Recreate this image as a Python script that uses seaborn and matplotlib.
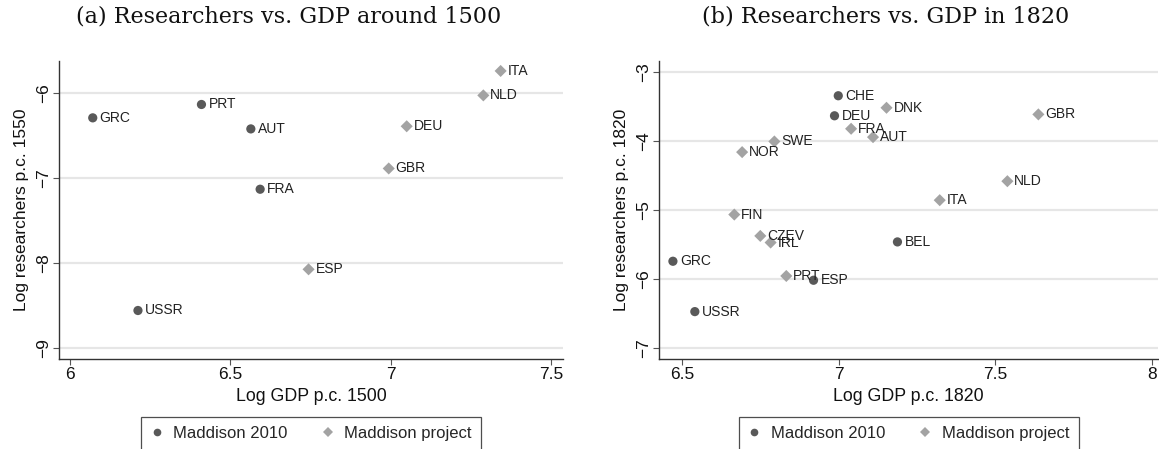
import matplotlib
matplotlib.use("Agg")
import matplotlib.pyplot as plt
import seaborn as sns
import pandas as pd
from matplotlib.lines import Line2D

# ---------------- data ----------------
a_countries = ["PRT", "GRC", "AUT", "FRA", "USSR", "ITA", "NLD", "DEU", "GBR", "ESP"]
a_gdp = [6.410, 6.071, 6.564, 6.593, 6.212, 7.343, 7.289, 7.050, 6.994, 6.744]
a_res = [-6.138, -6.295, -6.425, -7.134, -8.559, -5.744, -6.031, -6.394, -6.890, -8.075]
a_source = ["Maddison 2010"] * 5 + ["Maddison project"] * 5

b_countries = ["CHE", "DEU", "GRC", "ESP", "BEL", "USSR",
               "DNK", "GBR", "FRA", "AUT", "SWE", "NOR", "NLD", "ITA",
               "FIN", "CZEV", "IRL", "PRT"]
b_gdp = [6.999, 6.987, 6.471, 6.920, 7.188, 6.541,
         7.153, 7.638, 7.040, 7.110, 6.795, 6.692, 7.539, 7.323,
         6.667, 6.750, 6.783, 6.833]
b_res = [-3.348, -3.638, -5.744, -6.019, -5.464, -6.473,
         -3.522, -3.618, -3.826, -3.947, -4.010, -4.164, -4.585, -4.860,
         -5.068, -5.377, -5.473, -5.957]
b_source = ["Maddison 2010"] * 6 + ["Maddison project"] * 12

sources = ["Maddison 2010", "Maddison project"]
titles = ["(a) Researchers vs. GDP around 1500", "(b) Researchers vs. GDP in 1820"]
xlabels = ["Log GDP p.c. 1500", "Log GDP p.c. 1820"]
ylabels = ["Log researchers p.c. 1550", "Log researchers p.c. 1820"]
a_xticks = [6, 6.5, 7, 7.5]
a_yticks = [-6, -7, -8, -9]
b_xticks = [6.5, 7, 7.5, 8]
b_yticks = [-3, -4, -5, -6, -7]

# ---------------- style ----------------
sns.set_theme(style="white")
plt.rcParams["font.family"] = ["Liberation Sans", "DejaVu Sans"]

dark = "#595959"
light = "#a3a3a3"
palette = {"Maddison 2010": dark, "Maddison project": light}
markers = {"Maddison 2010": "o", "Maddison project": "D"}

fig = plt.figure(figsize=(11.59, 4.49), dpi=100)
W, H = 1159, 449
axA = fig.add_axes([59.3 / W, 1 - 359 / H, 503.4 / W, 298 / H])
axB = fig.add_axes([659.3 / W, 1 - 359 / H, 498.7 / W, 298 / H])

panels = [
    (axA, a_countries, a_gdp, a_res, a_source, a_xticks, a_yticks,
     (5.9667, 7.5365), (-9.129, -5.627)),
    (axB, b_countries, b_gdp, b_res, b_source, b_xticks, b_yticks,
     (6.4275, 8.02), (-7.159, -2.845)),
]

for i, (ax, cc, gx, ry, src, xt, yt, xl, yl) in enumerate(panels):
    df = pd.DataFrame({"country": cc, "gdp": gx, "res": ry, "source": src})
    for s in sources:
        sub = df[df["source"] == s]
        sns.scatterplot(data=sub, x="gdp", y="res", color=palette[s],
                        marker=markers[s], s=44 if s == sources[0] else 38,
                        edgecolor="none", linewidth=0, ax=ax, legend=False,
                        zorder=3)
    for _, r in df.iterrows():
        ax.annotate(r["country"], (r["gdp"], r["res"]), xytext=(5, 0),
                    textcoords="offset points", ha="left", va="center",
                    fontsize=10, color="#222222", zorder=4)
    ax.set_xlim(*xl)
    ax.set_ylim(*yl)
    ax.set_xticks(xt)
    ax.set_xticklabels([f"{v:g}" for v in xt])
    ax.set_yticks(yt)
    ax.set_yticklabels([f"\u2212{abs(v):g}" for v in yt], rotation=90, va="center")
    ax.grid(axis="y", color="#e6e6e6", linewidth=1.6, zorder=0)
    ax.grid(axis="x", visible=False)
    for sp in ["top", "right"]:
        ax.spines[sp].set_visible(False)
    for sp in ["left", "bottom"]:
        ax.spines[sp].set_color("#333333")
        ax.spines[sp].set_linewidth(1.0)
    ax.tick_params(axis="both", which="both", direction="out", length=4,
                   width=0.8, color="#555555", labelsize=12.5, labelcolor="#111111",
                   bottom=True, left=True, pad=2)
    ax.set_xlabel(xlabels[i], fontsize=12.8, labelpad=4, color="#111111")
    ax.set_ylabel(ylabels[i], fontsize=12.5, labelpad=5, color="#111111")

    handles = [Line2D([], [], linestyle="none", marker=markers[s], color=palette[s],
                      markersize=5.5 if s == sources[0] else 5, markeredgewidth=0)
               for s in sources]
    leg = ax.legend(handles, sources, loc="upper center",
                    bbox_to_anchor=(0.5, (359 - 417) / 298), ncol=2,
                    frameon=True, fancybox=False, edgecolor="#222222",
                    fontsize=12, handlelength=0.8, handletextpad=0.6,
                    columnspacing=2.0, borderpad=0.55, borderaxespad=0)
    leg.get_frame().set_linewidth(0.9)

fig.text(289 / W, 1 - 17 / H, titles[0], ha="center", va="center",
         fontsize=16, family=["DejaVu Serif"], color="#111111")
fig.text(886 / W, 1 - 17 / H, titles[1], ha="center", va="center",
         fontsize=16, family=["DejaVu Serif"], color="#111111")

fig.savefig("out.png", dpi=100)
